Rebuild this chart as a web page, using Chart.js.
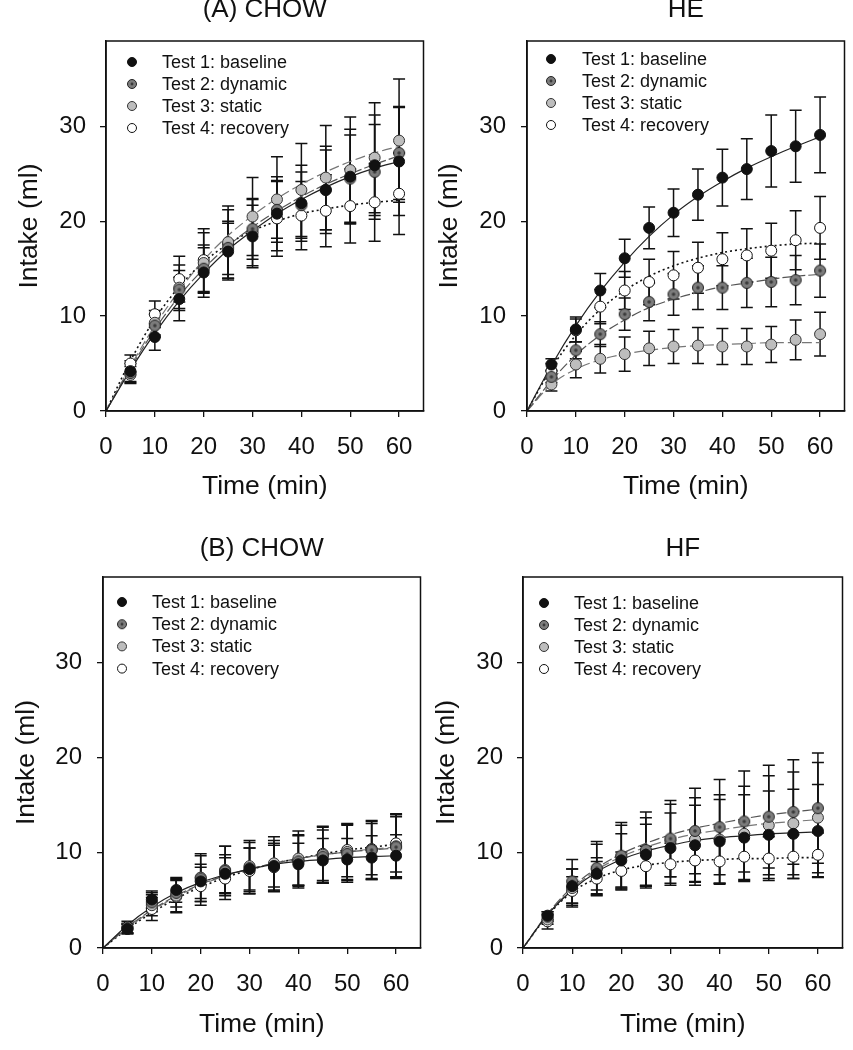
<!DOCTYPE html>
<html>
<head>
<meta charset="utf-8">
<script src="https://cdn.jsdelivr.net/npm/chart.js@4/dist/chart.umd.min.js"></script>
<style>
  html, body { margin: 0; padding: 0; background: #ffffff; width: 853px; height: 1050px; overflow: hidden; position: relative; }
  canvas { position: absolute; }
</style>
</head>
<body>
<canvas id="cA"></canvas>
<canvas id="cE"></canvas>
<canvas id="cB"></canvas>
<canvas id="cF"></canvas>
<script>
// ---------------- DATA ----------------
const timePoints = [5, 10, 15, 20, 25, 30, 35, 40, 45, 50, 55, 60];
const fitTimes = [0, 5, 10, 15, 20, 25, 30, 35, 40, 45, 50, 55, 60];
const seriesNames = ['Test 1: baseline', 'Test 2: dynamic', 'Test 3: static', 'Test 4: recovery'];
const panelTitles = ['(A) CHOW', 'HE', '(B) CHOW', 'HF'];
const xTickValues = [0, 10, 20, 30, 40, 50, 60];
const yTickValues = [0, 10, 20, 30];
const xAxisLabel = 'Time (min)';
const yAxisLabel = 'Intake (ml)';

// Panel (A) CHOW
const A_baseline = [4.2, 7.8, 11.8, 14.6, 16.8, 18.4, 20.8, 21.9, 23.3, 24.7, 25.9, 26.3];
const A_dynamic  = [4.0, 9.0, 12.8, 15.0, 17.2, 19.2, 21.2, 21.7, 23.3, 24.5, 25.2, 27.2];
const A_static   = [3.8, 9.3, 13.0, 15.6, 17.8, 20.5, 22.3, 23.3, 24.6, 25.4, 26.7, 28.5];
const A_recovery = [5.0, 10.2, 13.9, 15.9, 17.6, 18.8, 20.3, 20.6, 21.1, 21.6, 22.0, 22.9];
const A_baselineErr = [1.1, 1.4, 2.3, 2.6, 3.0, 3.3, 3.9, 4.0, 4.6, 5.0, 5.3, 5.7];
const A_dynamicErr  = [1.0, 1.2, 2.0, 2.5, 2.8, 3.2, 3.0, 3.5, 4.2, 4.6, 5.0, 4.9];
const A_staticErr   = [0.9, 1.3, 2.4, 3.2, 3.8, 4.1, 4.5, 4.9, 5.5, 5.6, 5.8, 6.5];
const A_recoveryErr = [0.9, 1.4, 2.4, 3.3, 3.6, 3.5, 4.0, 3.6, 3.8, 3.9, 4.1, 4.3];
const A_baselineFit = [0, 4.3, 8.2, 11.6, 14.5, 17.0, 19.0, 20.8, 22.3, 23.6, 24.7, 25.6, 26.3];
const A_dynamicFit  = [0, 4.5, 8.6, 12.1, 15.0, 17.4, 19.4, 21.1, 22.6, 23.9, 25.0, 26.0, 26.9];
const A_staticFit   = [0, 4.7, 9.0, 12.7, 15.9, 18.5, 20.6, 22.4, 23.9, 25.2, 26.3, 27.2, 27.9];
const A_recoveryFit = [0, 5.3, 9.7, 13.1, 15.7, 17.6, 19.0, 20.0, 20.8, 21.3, 21.7, 22.0, 22.2];

// Panel HE
const E_baseline = [4.9, 8.6, 12.7, 16.1, 19.3, 20.9, 22.8, 24.6, 25.5, 27.4, 27.9, 29.1];
const E_dynamic  = [3.6, 6.4, 8.1, 10.2, 11.5, 12.3, 13.0, 13.0, 13.5, 13.6, 13.8, 14.8];
const E_static   = [2.8, 4.9, 5.5, 6.0, 6.6, 6.8, 6.9, 6.8, 6.8, 7.0, 7.5, 8.1];
const E_recovery = [4.2, 8.5, 11.0, 12.7, 13.6, 14.3, 15.1, 16.0, 16.4, 16.9, 18.0, 19.3];
const E_baselineErr = [0.6, 1.3, 1.8, 2.0, 2.2, 2.5, 2.7, 3.0, 3.2, 3.8, 3.8, 4.0];
const E_dynamicErr  = [0.6, 0.9, 1.3, 1.7, 2.0, 2.2, 2.3, 2.3, 2.6, 2.6, 2.6, 2.8];
const E_staticErr   = [0.7, 1.4, 1.5, 1.8, 1.8, 1.8, 1.9, 1.9, 1.9, 1.9, 2.1, 2.3];
const E_recoveryErr = [0.8, 1.2, 1.8, 2.0, 2.4, 2.5, 2.7, 2.8, 2.8, 2.9, 3.1, 3.3];
const E_baselineFit = [0, 4.8, 9.0, 12.6, 15.7, 18.4, 20.7, 22.6, 24.2, 25.6, 26.8, 27.9, 28.9];
const E_dynamicFit  = [0, 3.2, 5.9, 8.0, 9.6, 10.9, 11.8, 12.5, 13.1, 13.5, 13.9, 14.2, 14.4];
const E_staticFit   = [0, 2.8, 4.4, 5.4, 6.0, 6.4, 6.7, 6.9, 7.0, 7.1, 7.2, 7.2, 7.2];
const E_recoveryFit = [0, 4.5, 8.0, 10.7, 12.7, 14.2, 15.3, 16.1, 16.7, 17.1, 17.4, 17.6, 17.7];

// Panel (B) CHOW
const B_baseline = [2.0, 5.1, 6.1, 7.0, 7.8, 8.3, 8.6, 8.8, 9.2, 9.3, 9.5, 9.7];
const B_dynamic  = [2.1, 4.8, 5.8, 7.3, 8.1, 8.4, 8.6, 9.1, 9.6, 9.9, 10.3, 10.6];
const B_static   = [2.0, 4.5, 5.5, 7.4, 8.2, 8.6, 8.9, 9.4, 9.8, 10.1, 10.3, 10.7];
const B_recovery = [2.2, 4.1, 5.4, 6.5, 7.3, 8.1, 8.5, 9.2, 9.9, 10.3, 10.4, 11.0];
const B_baselineErr = [0.5, 0.9, 1.3, 1.8, 2.0, 2.2, 2.2, 2.2, 2.3, 2.2, 2.3, 2.2];
const B_dynamicErr  = [0.5, 1.0, 1.5, 2.4, 2.6, 2.7, 2.7, 2.8, 2.8, 3.0, 3.0, 3.2];
const B_staticErr   = [0.5, 1.1, 1.7, 2.5, 2.5, 2.7, 2.8, 2.9, 3.0, 2.9, 3.1, 3.4];
const B_recoveryErr = [0.6, 1.2, 1.7, 2.0, 2.2, 2.4, 2.5, 2.6, 2.8, 2.8, 2.7, 3.0];
const B_baselineFit = [0, 2.4, 4.3, 5.8, 6.9, 7.7, 8.3, 8.8, 9.1, 9.3, 9.5, 9.6, 9.7];
const B_dynamicFit  = [0, 2.2, 4.0, 5.5, 6.7, 7.6, 8.3, 8.9, 9.4, 9.8, 10.1, 10.3, 10.5];
const B_staticFit   = [0, 2.1, 3.9, 5.4, 6.6, 7.6, 8.3, 8.9, 9.4, 9.8, 10.1, 10.4, 10.6];
const B_recoveryFit = [0, 2.0, 3.7, 5.2, 6.4, 7.4, 8.2, 8.9, 9.4, 9.9, 10.3, 10.6, 10.9];

// Panel HF
const F_baseline = [3.4, 6.5, 7.8, 9.2, 9.8, 10.5, 10.8, 11.2, 11.6, 11.9, 12.0, 12.3];
const F_dynamic  = [3.3, 7.0, 8.4, 9.7, 10.3, 11.5, 12.3, 12.7, 13.3, 13.8, 14.3, 14.7];
const F_static   = [3.0, 6.3, 8.3, 9.6, 10.1, 11.3, 11.4, 11.4, 12.0, 12.9, 13.1, 13.7];
const F_recovery = [2.8, 6.0, 7.3, 8.1, 8.6, 8.8, 9.2, 9.1, 9.6, 9.4, 9.6, 9.8];
const F_baselineErr = [0.4, 1.8, 1.7, 2.8, 3.2, 3.7, 4.2, 4.4, 4.5, 4.6, 4.7, 4.9];
const F_dynamicErr  = [0.5, 2.3, 2.8, 3.5, 4.0, 4.0, 4.5, 5.0, 5.3, 5.4, 5.5, 5.8];
const F_staticErr   = [0.5, 2.0, 2.6, 3.3, 3.6, 3.8, 4.4, 4.7, 5.0, 5.2, 5.4, 5.8];
const F_recoveryErr = [0.8, 1.5, 1.8, 2.0, 2.1, 2.2, 2.3, 2.3, 2.4, 2.3, 2.3, 2.3];
const F_baselineFit = [0, 3.5, 6.1, 8.0, 9.3, 10.2, 10.8, 11.3, 11.6, 11.8, 12.0, 12.1, 12.2];
const F_dynamicFit  = [0, 3.6, 6.4, 8.4, 9.9, 11.0, 11.9, 12.6, 13.1, 13.6, 14.0, 14.3, 14.6];
const F_staticFit   = [0, 3.5, 6.2, 8.2, 9.6, 10.6, 11.4, 12.0, 12.4, 12.8, 13.1, 13.3, 13.5];
const F_recoveryFit = [0, 3.4, 5.9, 7.3, 8.2, 8.7, 9.0, 9.2, 9.3, 9.4, 9.4, 9.5, 9.5];

// ---------------- STYLE / LAYOUT ----------------
const FONT = '"Liberation Sans", Arial, "DejaVu Sans", sans-serif';
Chart.defaults.font.family = FONT;
Chart.defaults.color = '#111';

function makeDynamicMarker(r) {
  const s = Math.ceil(2 * r + 3);
  const c = document.createElement('canvas');
  c.width = s; c.height = s;
  const g = c.getContext('2d');
  g.beginPath(); g.arc(s / 2, s / 2, r, 0, Math.PI * 2);
  g.fillStyle = '#7c7c7c'; g.fill();
  g.lineWidth = 1; g.strokeStyle = '#222'; g.stroke();
  g.beginPath(); g.arc(s / 2, s / 2, r * 0.32, 0, Math.PI * 2);
  g.fillStyle = '#3a3a3a'; g.fill();
  return c;
}

const seriesStyles = [
  { fill: '#111111', stroke: '#111111', line: '#222222', dash: [], lw: 1.2, inner: false },
  { fill: '#7c7c7c', stroke: '#222222', line: '#555555', dash: [10, 3], lw: 1.2, inner: true },
  { fill: '#bdbdbd', stroke: '#333333', line: '#777777', dash: [10, 4], lw: 1.2, inner: false },
  { fill: '#ffffff', stroke: '#111111', line: '#111111', dash: [2, 3], lw: 1.6, inner: false }
];
const MARKER_R = 5.5;
const dynamicMarker = makeDynamicMarker(MARKER_R);
const legendDynamicMarker = makeDynamicMarker(4.5);

const errorBarPlugin = {
  id: 'errorBars',
  beforeDatasetsDraw(chart) {
    const ctx = chart.ctx, xs = chart.scales.x, ys = chart.scales.y;
    ctx.save();
    ctx.strokeStyle = '#111';
    ctx.lineWidth = 1.5;
    chart.data.datasets.forEach(ds => {
      if (!ds.errors) return;
      ds.data.forEach((p, i) => {
        const e = ds.errors[i];
        const px = xs.getPixelForValue(p.x);
        const yt = ys.getPixelForValue(p.y + e);
        const yb = ys.getPixelForValue(p.y - e);
        const cw = 6;
        ctx.beginPath();
        ctx.moveTo(px, yt); ctx.lineTo(px, yb);
        ctx.moveTo(px - cw, yt); ctx.lineTo(px + cw, yt);
        ctx.moveTo(px - cw, yb); ctx.lineTo(px + cw, yb);
        ctx.stroke();
      });
    });
    ctx.restore();
  }
};

const frameLegendPlugin = {
  id: 'frameLegend',
  afterDraw(chart, args, opts) {
    const ctx = chart.ctx, a = chart.chartArea;
    ctx.save();
    ctx.strokeStyle = '#111';
    ctx.lineWidth = 1.5;
    ctx.strokeRect(a.left, a.top, a.right - a.left, a.bottom - a.top);
    ctx.font = '18px ' + FONT;
    ctx.textBaseline = 'middle';
    ctx.textAlign = 'left';
    seriesNames.forEach((name, i) => {
      const st = seriesStyles[i];
      const cx = a.left + opts.mx, cy = a.top + opts.my + i * opts.dy;
      if (st.inner) {
        ctx.drawImage(legendDynamicMarker, cx - legendDynamicMarker.width / 2, cy - legendDynamicMarker.height / 2);
      } else {
        ctx.beginPath(); ctx.arc(cx, cy, 4.5, 0, Math.PI * 2);
        ctx.fillStyle = st.fill; ctx.fill();
        ctx.lineWidth = 1; ctx.strokeStyle = st.stroke; ctx.stroke();
      }
      ctx.fillStyle = '#111';
      ctx.fillText(name, a.left + opts.tx, cy + 1);
    });
    ctx.restore();
  }
};

function pts(xs, ys) { return xs.map((x, i) => ({ x: x, y: ys[i] })); }

const panels = [
  { id: 'cA', title: panelTitles[0], left: 0, top: -6, width: 430, height: 509, yAxisW: 106, xAxisH: 92,
    titlePadBottom: 15.8, yTitlePad: 14, yTickPad: 14, legend: { mx: 26, my: 21, dy: 22, tx: 56 },
    means: [A_baseline, A_dynamic, A_static, A_recovery],
    errs: [A_baselineErr, A_dynamicErr, A_staticErr, A_recoveryErr],
    fits: [A_baselineFit, A_dynamicFit, A_staticFit, A_recoveryFit] },
  { id: 'cE', title: panelTitles[1], left: 420, top: -6, width: 431, height: 509, yAxisW: 107, xAxisH: 92,
    titlePadBottom: 15.8, yTitlePad: 14, yTickPad: 15, legend: { mx: 24, my: 18, dy: 22, tx: 55 },
    means: [E_baseline, E_dynamic, E_static, E_recovery],
    errs: [E_baselineErr, E_dynamicErr, E_staticErr, E_recoveryErr],
    fits: [E_baselineFit, E_dynamicFit, E_staticFit, E_recoveryFit] },
  { id: 'cB', title: panelTitles[2], left: 0, top: 533, width: 427, height: 508, yAxisW: 103, xAxisH: 93,
    titlePadBottom: 12.8, yTitlePad: 11, yTickPad: 15, legend: { mx: 19, my: 25, dy: 22.2, tx: 49 },
    means: [B_baseline, B_dynamic, B_static, B_recovery],
    errs: [B_baselineErr, B_dynamicErr, B_staticErr, B_recoveryErr],
    fits: [B_baselineFit, B_dynamicFit, B_staticFit, B_recoveryFit] },
  { id: 'cF', title: panelTitles[3], left: 420, top: 533, width: 429, height: 508, yAxisW: 103, xAxisH: 93,
    titlePadBottom: 12.8, yTitlePad: 11, yTickPad: 14, legend: { mx: 21, my: 26, dy: 22, tx: 51 },
    means: [F_baseline, F_dynamic, F_static, F_recovery],
    errs: [F_baselineErr, F_dynamicErr, F_staticErr, F_recoveryErr],
    fits: [F_baselineFit, F_dynamicFit, F_staticFit, F_recoveryFit] }
];

panels.forEach(p => {
  const cv = document.getElementById(p.id);
  cv.width = p.width; cv.height = p.height;
  cv.style.left = p.left + 'px'; cv.style.top = p.top + 'px';
  cv.style.width = p.width + 'px'; cv.style.height = p.height + 'px';

  const datasets = [];
  p.means.forEach((m, i) => {
    const st = seriesStyles[i];
    datasets.push({
      label: seriesNames[i],
      data: pts(timePoints, m),
      errors: p.errs[i],
      showLine: false,
      pointStyle: st.inner ? dynamicMarker : 'circle',
      pointRadius: MARKER_R,
      pointBackgroundColor: st.fill,
      pointBorderColor: st.stroke,
      pointBorderWidth: 1,
      order: 0
    });
  });
  p.fits.forEach((f, i) => {
    const st = seriesStyles[i];
    datasets.push({
      label: seriesNames[i] + ' fit',
      data: pts(fitTimes, f),
      showLine: true,
      pointRadius: 0,
      borderColor: st.line,
      borderWidth: st.lw,
      borderDash: st.dash,
      cubicInterpolationMode: 'monotone',
      fill: false,
      order: 1
    });
  });

  new Chart(cv, {
    type: 'scatter',
    data: { datasets: datasets },
    options: {
      responsive: false,
      animation: false,
      events: [],
      layout: { padding: { left: 0, right: 3, top: 0, bottom: 0 } },
      plugins: {
        legend: { display: false },
        tooltip: { enabled: false },
        title: {
          display: true, text: p.title, fullSize: false,
          font: { size: 26, weight: 'normal', family: FONT }, color: '#111',
          padding: { top: 0, bottom: p.titlePadBottom }
        },
        frameLegend: p.legend
      },
      scales: {
        x: {
          type: 'linear', min: 0, max: 65,
          afterBuildTicks: s => { s.ticks = xTickValues.map(v => ({ value: v })); },
          afterFit: s => { s.height = p.xAxisH; },
          ticks: { font: { size: 24, family: FONT }, color: '#111', padding: 16, maxRotation: 0, autoSkip: false },
          grid: { display: true, drawOnChartArea: false, drawTicks: true, tickLength: 6, color: '#111', lineWidth: 1.3 },
          border: { display: true, color: '#111', width: 1.5 },
          title: { display: true, text: xAxisLabel, font: { size: 26.5, family: FONT }, color: '#111', padding: { top: 0, bottom: 0 } }
        },
        y: {
          type: 'linear', min: 0, max: 39,
          afterBuildTicks: s => { s.ticks = yTickValues.map(v => ({ value: v })); },
          afterFit: s => { s.width = p.yAxisW; },
          ticks: { font: { size: 24, family: FONT }, color: '#111', padding: p.yTickPad, autoSkip: false },
          grid: { display: true, drawOnChartArea: false, drawTicks: true, tickLength: 6, color: '#111', lineWidth: 1.3 },
          border: { display: true, color: '#111', width: 1.5 },
          title: { display: true, text: yAxisLabel, font: { size: 26.5, family: FONT }, color: '#111', padding: { top: p.yTitlePad, bottom: 0 } }
        }
      }
    },
    plugins: [errorBarPlugin, frameLegendPlugin]
  });
});
</script>
</body>
</html>
